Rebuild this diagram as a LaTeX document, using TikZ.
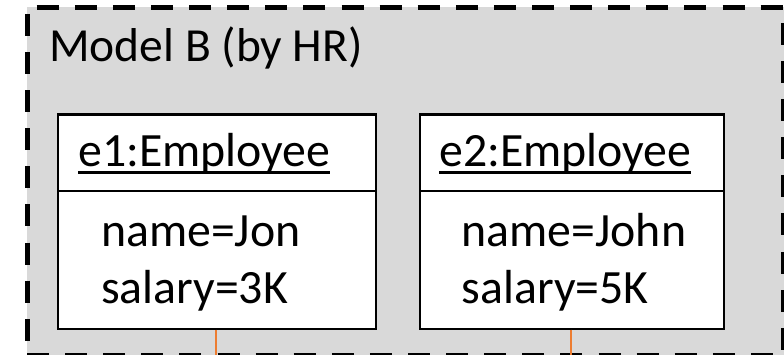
\documentclass[tikz,border=0pt]{standalone}
\usepackage{fontspec}
\setmainfont{Carlito}
\usetikzlibrary{calc}
\definecolor{grayC}{HTML}{D9D9D9}
\definecolor{orangeC}{HTML}{ED7D31}
\begin{document}
\begin{tikzpicture}[x=1pt,y=-1pt,
  objbox/.style={draw=black,line width=2.2pt,fill=white,inner sep=0pt,anchor=north west},
  txt/.style={anchor=base west,inner sep=0pt,font=\fontsize{47.8}{48}\selectfont},
  link/.style={draw=orangeC,line width=2.8pt},
  frameline/.style={line width=5pt,dash pattern=on 22pt off 16.1pt}]
\useasboundingbox (0,0) rectangle (784,355);
\fill[grayC] (27,7.5) rectangle (784,355);
\draw[frameline,dash phase=28.4pt] (27,7.5) -- (784,7.5);
\draw[frameline,dash phase=31.6pt] (27,7.5) -- (27,356);
\draw[frameline,dash phase=22.6pt] (783.5,7.5) -- (783.5,356);
\draw[frameline,dash phase=0pt] (27,355) -- (784,355);
\node[txt,font=\fontsize{47.5}{48}\selectfont] (title) at (49,62) {Model B (by HR)};
% box 1
\node[objbox,minimum width=318pt,minimum height=214pt] (b1) at (57,113.5) {};
\draw[line width=2.2pt] ($(b1.north west)+(0,77.5)$) -- ($(b1.north east)+(0,77.5)$);
\node[txt] (h1) at (78,167) {e1:Employee};
\draw[line width=2.2pt] ($(h1.base west)+(0,5.5)$) -- ($(h1.base east)+(0,5.5)$);
\node[txt] (n1) at (101,246.5) {name=Jon};
\node[txt] (s1) at (101,303) {salary=3K};
% box 2
\node[objbox,minimum width=303.5pt,minimum height=214pt] (b2) at (419,113.5) {};
\draw[line width=2.2pt] ($(b2.north west)+(0,77.5)$) -- ($(b2.north east)+(0,77.5)$);
\node[txt] (h2) at (439,167) {e2:Employee};
\draw[line width=2.2pt] ($(h2.base west)+(0,5.5)$) -- ($(h2.base east)+(0,5.5)$);
\node[txt] (n2) at (461.5,246.5) {name=John};
\node[txt] (s2) at (461.5,303) {salary=5K};
% connectors leaving the picture
\coordinate (o1) at (216,356);
\coordinate (o2) at (571,356);
\draw[link] (b1.south -| o1) -- (o1);
\draw[link] (b2.south -| o2) -- (o2);
\end{tikzpicture}
\end{document}
